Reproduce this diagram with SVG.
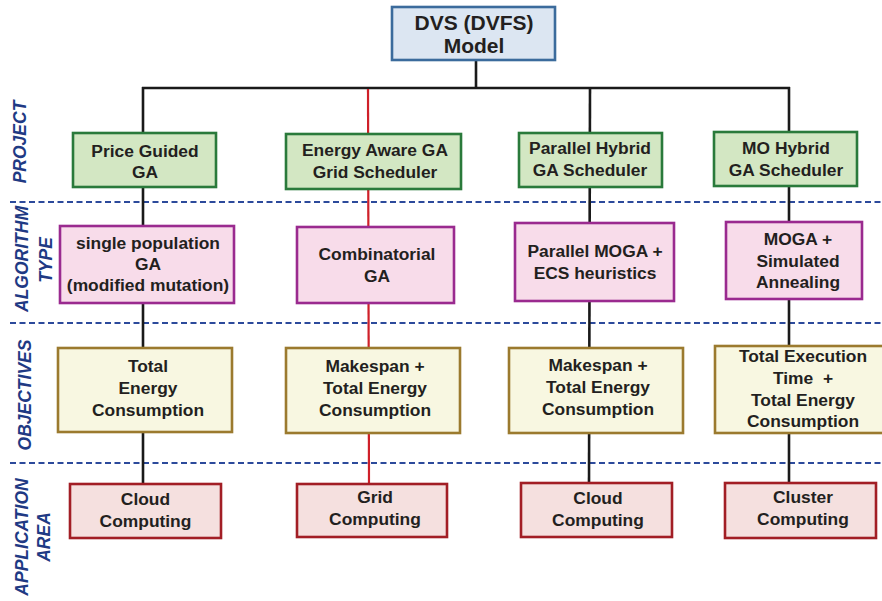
<svg xmlns="http://www.w3.org/2000/svg" width="882" height="601" viewBox="0 0 882 601">
  <style>
    .t { font-family: "Liberation Sans", Arial, sans-serif; font-weight: bold; font-size: 17.4px; fill: #231f20; text-anchor: middle; }
    .title { font-size: 21px; }
    .side { font-family: "Liberation Sans", Arial, sans-serif; font-weight: bold; font-style: italic; font-size: 17.5px; fill: #1f3a84; text-anchor: middle; }
    .proj { fill: #d3e7c3; stroke: #2a7a3b; stroke-width: 2.6; }
    .algo { fill: #f8dcea; stroke: #9a2a8f; stroke-width: 2.6; }
    .obj { fill: #f8f7e1; stroke: #9b7a2e; stroke-width: 2.6; }
    .app { fill: #f5e0df; stroke: #a21e25; stroke-width: 2.6; }
    .top { fill: #dce6f2; stroke: #3b6b9c; stroke-width: 2.6; }
    .sep { stroke: #2c4a9b; stroke-width: 2.2; stroke-dasharray: 6 3.5; fill: none; }
    .lk { stroke: #1a1a1a; stroke-width: 2.6; fill: none; }
    .lr { stroke: #cf2029; stroke-width: 2.2; fill: none; }
  </style>

  <!-- row separators -->
  <g id="separators">
    <line class="sep" x1="10" y1="202" x2="882" y2="202"/>
    <line class="sep" x1="10" y1="323" x2="882" y2="323"/>
    <line class="sep" x1="10" y1="463" x2="882" y2="463"/>
  </g>

  <!-- row labels -->
  <g id="row-labels">
    <text class="side" transform="translate(26,142) rotate(-90)">PROJECT</text>
    <text class="side" transform="translate(28,259) rotate(-90)">ALGORITHM</text>
    <text class="side" transform="translate(52,260) rotate(-90)">TYPE</text>
    <text class="side" transform="translate(31,395) rotate(-90)">OBJECTIVES</text>
    <text class="side" transform="translate(28,537) rotate(-90)">APPLICATION</text>
    <text class="side" transform="translate(50,537) rotate(-90)">AREA</text>
  </g>

  <!-- connectors -->
  <g id="connectors">
    <line class="lk" x1="476" y1="60" x2="476" y2="88"/>
    <line class="lk" x1="142" y1="88" x2="790" y2="88"/>
    <line class="lk" x1="143" y1="87" x2="143" y2="485"/>
    <line class="lr" x1="368" y1="89" x2="369" y2="485"/>
    <line class="lk" x1="590" y1="87" x2="589" y2="485"/>
    <line class="lk" x1="789" y1="87" x2="789" y2="485"/>
  </g>

  <!-- root -->
  <g id="dvs-model">
    <rect class="top" x="392" y="7" width="163" height="53"/>
    <text class="t title" x="474" y="30">DVS (DVFS)</text>
    <text class="t title" x="474" y="53">Model</text>
  </g>

  <!-- column 1 -->
  <g id="price-guided-ga">
    <rect class="proj" x="73" y="133" width="143" height="54"/>
    <text class="t" x="145" y="157">Price Guided</text>
    <text class="t" x="145" y="178">GA</text>
  </g>
  <g id="single-population-ga">
    <rect class="algo" x="60" y="226" width="174" height="77"/>
    <text class="t" x="148" y="249">single population</text>
    <text class="t" x="148" y="270">GA</text>
    <text class="t" x="148" y="291">(modified mutation)</text>
  </g>
  <g id="obj-1">
    <rect class="obj" x="58" y="348" width="174" height="84"/>
    <text class="t" x="148" y="372">Total</text>
    <text class="t" x="148" y="394">Energy</text>
    <text class="t" x="148" y="416">Consumption</text>
  </g>
  <g id="app-1">
    <rect class="app" x="70" y="484" width="151" height="54"/>
    <text class="t" x="145.5" y="505">Cloud</text>
    <text class="t" x="145.5" y="527">Computing</text>
  </g>

  <!-- column 2 -->
  <g id="energy-aware-ga">
    <rect class="proj" x="286" y="134" width="175" height="55"/>
    <text class="t" x="375" y="156">Energy Aware GA</text>
    <text class="t" x="375" y="178">Grid Scheduler</text>
  </g>
  <g id="combinatorial-ga">
    <rect class="algo" x="297" y="227" width="157" height="76"/>
    <text class="t" x="377" y="260">Combinatorial</text>
    <text class="t" x="377" y="282">GA</text>
  </g>
  <g id="obj-2">
    <rect class="obj" x="286" y="348" width="174" height="85"/>
    <text class="t" x="375" y="372">Makespan +</text>
    <text class="t" x="375" y="394">Total Energy</text>
    <text class="t" x="375" y="416">Consumption</text>
  </g>
  <g id="app-2">
    <rect class="app" x="297" y="484" width="150" height="53"/>
    <text class="t" x="375" y="503">Grid</text>
    <text class="t" x="375" y="525">Computing</text>
  </g>

  <!-- column 3 -->
  <g id="parallel-hybrid-ga">
    <rect class="proj" x="519" y="133" width="143" height="54"/>
    <text class="t" x="590" y="154">Parallel Hybrid</text>
    <text class="t" x="590" y="176">GA Scheduler</text>
  </g>
  <g id="parallel-moga">
    <rect class="algo" x="515" y="223" width="159" height="78"/>
    <text class="t" x="595" y="257">Parallel MOGA +</text>
    <text class="t" x="595" y="279">ECS heuristics</text>
  </g>
  <g id="obj-3">
    <rect class="obj" x="509" y="348" width="174" height="85"/>
    <text class="t" x="598" y="371">Makespan +</text>
    <text class="t" x="598" y="393">Total Energy</text>
    <text class="t" x="598" y="415">Consumption</text>
  </g>
  <g id="app-3">
    <rect class="app" x="521" y="483" width="151" height="54"/>
    <text class="t" x="598" y="504">Cloud</text>
    <text class="t" x="598" y="526">Computing</text>
  </g>

  <!-- column 4 -->
  <g id="mo-hybrid-ga">
    <rect class="proj" x="714" y="132" width="143" height="54"/>
    <text class="t" x="786" y="154">MO Hybrid</text>
    <text class="t" x="786" y="176">GA Scheduler</text>
  </g>
  <g id="moga-sa">
    <rect class="algo" x="726" y="222" width="136" height="77"/>
    <text class="t" x="798" y="245">MOGA +</text>
    <text class="t" x="798" y="267">Simulated</text>
    <text class="t" x="798" y="288">Annealing</text>
  </g>
  <g id="obj-4">
    <rect class="obj" x="715" y="346" width="176" height="87"/>
    <text class="t" x="803" y="362">Total Execution</text>
    <text class="t" x="803" y="384" xml:space="preserve">Time  +</text>
    <text class="t" x="803" y="406">Total Energy</text>
    <text class="t" x="803" y="427">Consumption</text>
  </g>
  <g id="app-4">
    <rect class="app" x="725" y="483" width="151" height="55"/>
    <text class="t" x="803" y="503">Cluster</text>
    <text class="t" x="803" y="525">Computing</text>
  </g>
</svg>
